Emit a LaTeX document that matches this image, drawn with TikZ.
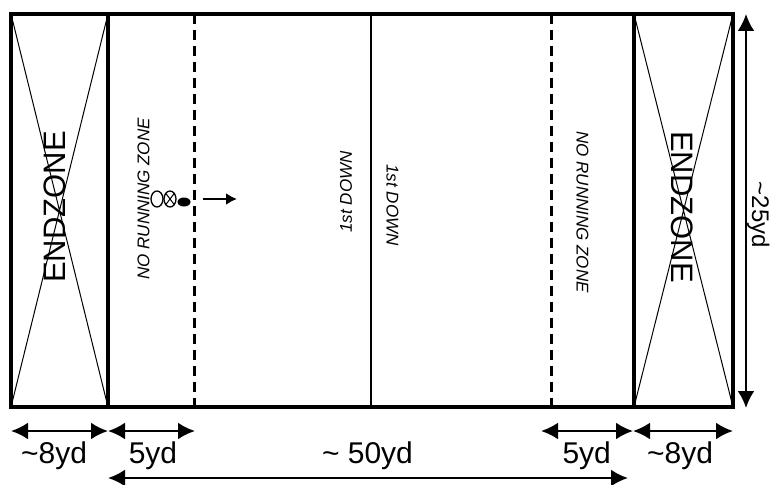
\documentclass[tikz,border=0pt]{standalone}
\usepackage{fontspec}
\setmainfont{Liberation Sans}
\usetikzlibrary{arrows.meta}

\begin{document}
\begin{tikzpicture}[x=1pt,y=-1pt,
    dimarrow/.style={line width=2.5pt,{Latex[length=17pt,width=17pt]}-{Latex[length=17pt,width=17pt]}},
    dimlabel/.style={font=\fontsize{30}{32}\selectfont,inner sep=0pt,anchor=base},
    zonelabel/.style={font=\fontsize{17}{19}\selectfont\itshape,inner sep=0pt},
    endlabel/.style={font=\fontsize{31}{33}\selectfont,inner sep=0pt}]

  \useasboundingbox (0,0) rectangle (778,484);

  % field lines
  \coordinate (goalL) at (11,14);
  \coordinate (goalR) at (733,407);
  \coordinate (ezL) at (108,14);
  \coordinate (ezR) at (634,14);
  \coordinate (nrL) at (194,14);
  \coordinate (nrR) at (551,14);
  \coordinate (mid) at (371,14);

  % crosses in the endzones
  \draw[line width=1pt] (11,14) -- (108,407) (108,14) -- (11,407);
  \draw[line width=1pt] (634,14) -- (733,407) (733,14) -- (634,407);

  \draw[line width=3.5pt] (ezL) -- (ezL |- goalR);
  \draw[line width=3.5pt] (ezR) -- (ezR |- goalR);
  \draw[line width=3pt,dash pattern=on 10pt off 6pt] (nrL) -- (nrL |- goalR);
  \draw[line width=3pt,dash pattern=on 10pt off 6pt] (nrR) -- (nrR |- goalR);
  \draw[line width=2pt] (mid) -- (mid |- goalR);
  \draw[line width=4pt] (goalL) rectangle (goalR);

  \node[endlabel,rotate=90] (endL) at (55,207) {ENDZONE};
  \node[endlabel,rotate=-90] (endR) at (682,207) {ENDZONE};
  \node[zonelabel,rotate=90] (noRunL) at (143.5,199) {NO RUNNING ZONE};
  \node[zonelabel,rotate=-90] (noRunR) at (582.5,212) {NO RUNNING ZONE};
  \node[zonelabel,rotate=90] (downL) at (346,192) {1st DOWN};
  \node[zonelabel,rotate=-90] (downR) at (392.5,205) {1st DOWN};

  % players and ball
  \draw[line width=1.3pt] (157,199) ellipse [x radius=6,y radius=8];
  \draw[line width=1.3pt] (170,199) ellipse [x radius=6,y radius=8];
  \draw[line width=1pt] (165.8,193.4) -- (174.2,204.6) (174.2,193.4) -- (165.8,204.6);
  \fill (184,202) ellipse [x radius=6.5,y radius=4.5];
  \coordinate (runS) at (203,199);
  \coordinate (runE) at (237,199);
  \draw[line width=2.2pt,-{Latex[length=11pt,width=12pt]}] (runS) -- (runE);

  % dimensions
  \coordinate (topW) at (746,14);
  \coordinate (botW) at (746,408);
  \draw[dimarrow] (topW) -- (botW);
  \node[font=\fontsize{24}{26}\selectfont,inner sep=0pt,anchor=base,rotate=-90] (width) at (752,215) {\textasciitilde25yd};

  \coordinate (d0) at (11,431);
  \coordinate (d1) at (108,431);
  \coordinate (d2) at (195,431);
  \coordinate (d3) at (541,431);
  \coordinate (d4) at (633,431);
  \coordinate (d5) at (733,431);
  \coordinate (l0) at (108,478);
  \coordinate (l1) at (628,478);
  \draw[dimarrow] (d0) -- (d1);
  \draw[dimarrow] (d1) -- (d2);
  \draw[dimarrow] (d3) -- (d4);
  \draw[dimarrow] (d4) -- (d5);
  \draw[dimarrow] (l0) -- (l1);

  \node[dimlabel] (lenEzL) at (54,463) {\textasciitilde8yd};
  \node[dimlabel] (lenNrL) at (153,463) {5yd};
  \node[dimlabel] (lenMid) at (367.5,463) {\textasciitilde{} 50yd};
  \node[dimlabel] (lenNrR) at (586.7,463) {5yd};
  \node[dimlabel] (lenEzR) at (680,463) {\textasciitilde8yd};
\end{tikzpicture}
\end{document}
